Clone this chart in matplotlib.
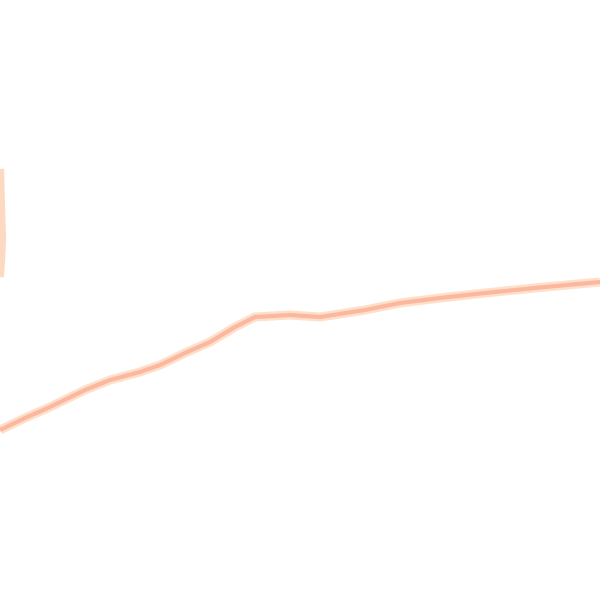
import numpy as np
import matplotlib
matplotlib.use('Agg')
import matplotlib.pyplot as plt

# main series (x, height from bottom)
x_main = [0, 25, 50, 85, 110, 140, 160, 185, 210, 235, 255, 290, 320, 365, 400, 440, 485, 545, 600]
y_main = [170, 182, 193, 210, 220, 228, 235, 247, 258, 273, 283, 285, 283, 290, 297, 302, 307, 313, 318]

# short piece at the left edge
x_left = [1, 2, 3, 2, 1]
y_left = [428, 390, 360, 340, 326]

line_color = '#fcb09a'
halo_color = '#fee0c9'

fig = plt.figure(figsize=(6, 6), dpi=100)
ax = fig.add_axes([0, 0, 1, 1])
ax.plot(x_main, y_main, color=halo_color, lw=6.5, solid_capstyle='butt')
ax.plot(x_main, y_main, color=line_color, lw=3, alpha=0.85, solid_capstyle='butt')
ax.plot(x_left, y_left, color='#fdd9c2', lw=4.5)
ax.set_xlim(0, 600)
ax.set_ylim(0, 600)
ax.axis('off')
fig.savefig('out.png', dpi=100)
